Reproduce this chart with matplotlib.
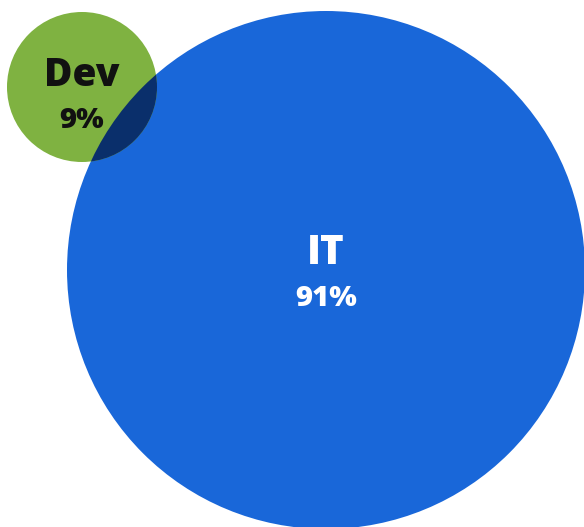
import matplotlib.pyplot as plt
from matplotlib.patches import Circle

# data
names = ['IT', 'Dev']
shares = [91, 9]
colors = ['#1967d9', '#7fb241']
text_colors = ['white', '#111111']
overlap_color = '#0a2f6b'

# layout (pixel space, y down)
centers = [(326, 270), (82, 87)]
radii = [259, 75]
name_sizes = [29, 28]
pct_sizes = [21, 21]
name_dy = [-16, -12]
pct_dy = [29, 34]

fig = plt.figure(figsize=(5.84, 5.27), dpi=100)
ax = fig.add_axes([0, 0, 1, 1])
ax.set_xlim(0, 584)
ax.set_ylim(527, 0)
ax.set_aspect('equal')
ax.axis('off')

circles = []
for c, r, col in zip(centers, radii, colors):
    p = Circle(c, r, facecolor=col, edgecolor='none')
    ax.add_patch(p)
    circles.append(p)

# overlap region: small circle clipped to big one
ov = Circle(centers[1], radii[1], facecolor=overlap_color, edgecolor='none', zorder=3)
ax.add_patch(ov)
ov.set_clip_path(circles[0])

for i in range(len(names)):
    x, y = centers[i]
    ax.text(x, y + name_dy[i], names[i], ha='center', va='center',
            fontsize=name_sizes[i], fontweight='heavy', color=text_colors[i],
            family='Open Sans', zorder=5)
    ax.text(x, y + pct_dy[i], f'{shares[i]}%', ha='center', va='center',
            fontsize=pct_sizes[i], fontweight='heavy', color=text_colors[i],
            family='Open Sans', zorder=5)

fig.savefig('out.png', dpi=100)
